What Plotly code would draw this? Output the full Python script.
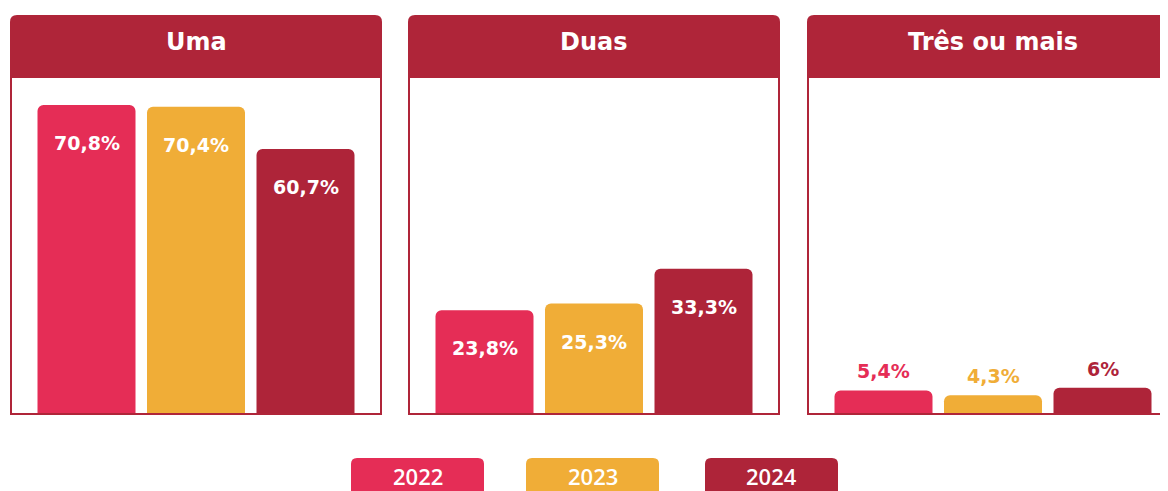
import plotly.graph_objects as go

# ---- data ----
categories = ["Uma", "Duas", "Três ou mais"]
years = ["2022", "2023", "2024"]
v2022 = [70.8, 23.8, 5.4]
v2023 = [70.4, 25.3, 4.3]
v2024 = [60.7, 33.3, 6.0]
colors = ["#E52D56", "#F0AD37", "#AE2439"]

W, H = 1168, 491
OFF = 8  # page body margin
DARK = "#AF2539"
HFONT = "DejaVu Sans"
LFONT = "Open Sans"


def X(px):
    return (px - OFF) / W


def Y(py):
    return 1 - (py - OFF) / H


def rtop_path(x0, y0, x1, y1, r):
    pts = [
        f"M {X(x0)},{Y(y1)}",
        f"L {X(x0)},{Y(y0 + r)}",
        f"Q {X(x0)},{Y(y0)} {X(x0 + r)},{Y(y0)}",
        f"L {X(x1 - r)},{Y(y0)}",
        f"Q {X(x1)},{Y(y0)} {X(x1)},{Y(y0 + r)}",
        f"L {X(x1)},{Y(y1)}",
        "Z",
    ]
    return " ".join(pts)


def fmt(v):
    return f"{v:g}".replace(".", ",") + "%"


panel_left = [10, 408, 807]
panel_w = 372
header_top, body_top, body_bottom = 15, 78, 414
spacing_px = 109.5
first_center_px = 76.5
y_max = (body_bottom - body_top) / 4.364

series = [v2022, v2023, v2024]

fig = go.Figure()
shapes = []
annotations = []

for i, cat in enumerate(categories):
    vals = [s[i] for s in series]
    xa = "x" if i == 0 else f"x{i+1}"
    ya = "y" if i == 0 else f"y{i+1}"
    fig.add_trace(go.Bar(
        x=years, y=vals, xaxis=xa, yaxis=ya,
        marker=dict(color=colors, line=dict(width=0)),
        width=98 / spacing_px, showlegend=False, hoverinfo="skip",
    ))
    left = panel_left[i]
    right = min(left + panel_w, W + OFF)
    xr0 = -first_center_px / spacing_px
    xr1 = xr0 + (right - left) / spacing_px
    axname = "xaxis" if i == 0 else f"xaxis{i+1}"
    ayname = "yaxis" if i == 0 else f"yaxis{i+1}"
    fig.update_layout(**{
        axname: dict(domain=[X(left), min(X(right), 1)], range=[xr0, xr1], type="category",
                     showticklabels=False, showgrid=False, zeroline=False,
                     anchor=ya, fixedrange=True),
        ayname: dict(domain=[Y(body_bottom), Y(body_top)], range=[0, y_max],
                     showticklabels=False, showgrid=False, zeroline=False,
                     anchor=xa, fixedrange=True),
    })
    pr = left + panel_w
    shapes.append(dict(type="path", xref="paper", yref="paper",
                       path=f"M {X(left+1)},{Y(body_top)} L {X(left+1)},{Y(body_bottom)} "
                            f"L {X(pr-1)},{Y(body_bottom)} L {X(pr-1)},{Y(body_top)}",
                       line=dict(color=DARK, width=2), layer="above"))
    shapes.append(dict(type="path", xref="paper", yref="paper",
                       path=rtop_path(left, header_top, pr, body_top, 7),
                       fillcolor=DARK, line=dict(width=0), layer="above"))
    annotations.append(dict(xref="paper", yref="paper", x=X(left + panel_w / 2), y=Y(42),
                            text=f"<b>{cat}</b>", showarrow=False,
                            font=dict(family=HFONT, size=24, color="white"),
                            xanchor="center", yanchor="middle"))
    for j, v in enumerate(vals):
        inside = v >= 10
        annotations.append(dict(xref=xa, yref=ya, x=j, y=v,
                                text=f"<b>{fmt(v)}</b>", showarrow=False,
                                yshift=-38 if inside else 19,
                                xanchor="center", yanchor="middle",
                                font=dict(family=HFONT, size=19,
                                          color="white" if inside else colors[j])))

leg_left = [351, 526, 705]
leg_w = 133
for k, yr in enumerate(years):
    l = leg_left[k]
    shapes.append(dict(type="path", xref="paper", yref="paper",
                       path=rtop_path(l, 458, l + leg_w, 505, 6),
                       fillcolor=colors[k], line=dict(width=0)))
    annotations.append(dict(xref="paper", yref="paper", x=X(l + leg_w / 2), y=Y(476),
                            text=yr, showarrow=False, xanchor="center", yanchor="middle",
                            font=dict(family=LFONT, size=22, color="white", weight=600)))

fig.update_layout(
    width=W, height=H,
    margin=dict(l=0, r=0, t=0, b=0),
    paper_bgcolor="white", plot_bgcolor="rgba(0,0,0,0)",
    barcornerradius=6,
    shapes=shapes, annotations=annotations,
)

fig.write_html("out.html")
